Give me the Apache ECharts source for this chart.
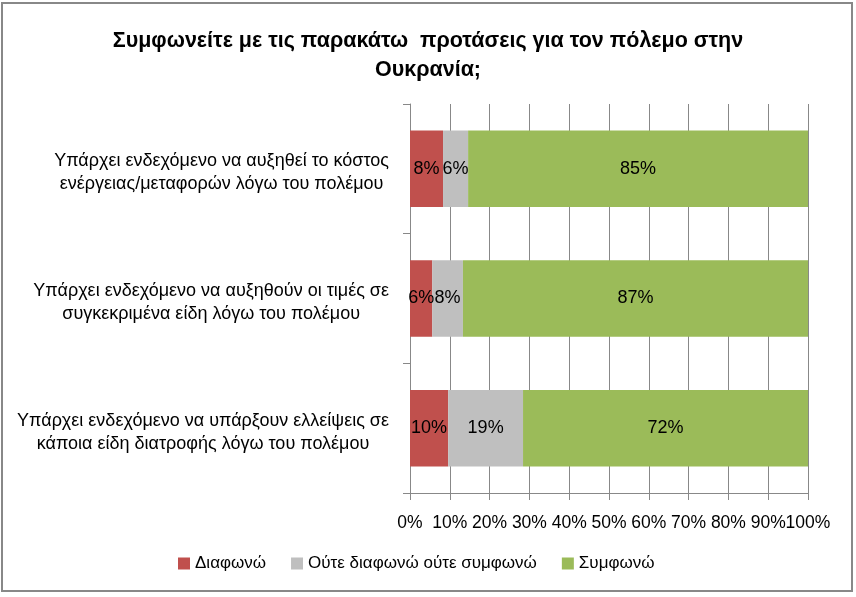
<!DOCTYPE html>
<html>
<head>
<meta charset="utf-8">
<script src="https://cdn.jsdelivr.net/npm/echarts@6/dist/echarts.min.js"></script>
<style>
  html, body { margin: 0; padding: 0; background: #fff; }
  #main { width: 856px; height: 597px; }
</style>
</head>
<body>
<div id="main"></div>
<script>
// κατηγορίες (από πάνω προς τα κάτω)
const categories = [
    'Υπάρχει ενδεχόμενο να αυξηθεί το κόστος\nενέργειας/μεταφορών λόγω του πολέμου',
    'Υπάρχει ενδεχόμενο να αυξηθούν οι τιμές σε\nσυγκεκριμένα είδη λόγω του πολέμου',
    'Υπάρχει ενδεχόμενο να υπάρξουν ελλείψεις σε\nκάποια είδη διατροφής λόγω του πολέμου'
];
const seriesNames = ['Διαφωνώ', 'Ούτε διαφωνώ ούτε συμφωνώ', 'Συμφωνώ'];
const disagree = [8.3, 5.6, 9.6];
const neutral = [6.3, 7.7, 18.8];
const agree = [85.4, 86.7, 71.6];
const xTicks = [0, 10, 20, 30, 40, 50, 60, 70, 80, 90, 100];

const colors = ['#C0504D', '#BFBFBF', '#9BBB59'];
const values = [disagree, neutral, agree];
const FONT = '"Liberation Sans", Arial, sans-serif';

function series() {
    const s = [];
    for (let i = 0; i < seriesNames.length; i++) {
        s.push({
            name: seriesNames[i],
            type: 'bar',
            stack: 'total',
            barWidth: '59%',
            data: values[i],
            itemStyle: { color: colors[i] },
            label: {
                show: true,
                position: 'inside',
                color: '#000',
                fontFamily: FONT,
                fontSize: 18,
                padding: [4, 0, 0, 0],
                formatter: (p) => Math.round(p.value) + '%'
            }
        });
    }
    return s;
}

const option = {
    animation: false,
    textStyle: { fontFamily: FONT },
    title: {
        text: 'Συμφωνείτε με τις παρακάτω  προτάσεις για τον πόλεμο στην\nΟυκρανία;',
        left: 'center',
        top: 22,
        textStyle: {
            fontFamily: FONT,
            fontWeight: 'bold',
            fontSize: 21.5,
            lineHeight: 29,
            color: '#000'
        }
    },
    legend: {
        left: 173,
        top: 550,
        itemWidth: 12,
        itemHeight: 12,
        itemGap: 25,
        icon: 'rect',
        textStyle: { fontFamily: FONT, fontSize: 17, color: '#000' },
        data: seriesNames
    },
    grid: {
        left: 410,
        right: 48,
        top: 104,
        bottom: 104
    },
    xAxis: {
        type: 'value',
        min: xTicks[0],
        max: xTicks[xTicks.length - 1],
        interval: 10,
        axisLine: { show: true, lineStyle: { color: '#888', width: 1 } },
        axisTick: { show: true, length: 7, lineStyle: { color: '#888' } },
        splitLine: { show: true, lineStyle: { color: '#888', width: 1 } },
        axisLabel: {
            color: '#000',
            fontFamily: FONT,
            fontSize: 17.5,
            margin: 21,
            formatter: (v) => v + '%'
        }
    },
    yAxis: {
        type: 'category',
        inverse: true,
        data: categories,
        axisLine: { show: true, lineStyle: { color: '#888', width: 1 } },
        axisTick: { show: true, length: 7, lineStyle: { color: '#888' } },
        axisLabel: {
            color: '#000',
            fontFamily: FONT,
            fontSize: 18,
            lineHeight: 23,
            margin: 21,
            padding: [8, 0, 0, 0],
            // γραμμές κεντραρισμένες μέσα στο μπλοκ
            formatter: (v) => v.split('\n').map((l) => '{c|' + l + '}').join('\n'),
            rich: {
                c: { align: 'center', fontFamily: FONT, fontSize: 18, lineHeight: 23, color: '#000' }
            }
        }
    },
    graphic: [{
        type: 'rect',
        shape: { x: 2, y: 3, width: 850, height: 588 },
        style: { fill: 'none', stroke: '#888', lineWidth: 2 },
        silent: true
    }],
    series: series()
};

const myChart = echarts.init(document.getElementById('main'));
option && myChart.setOption(option);
window.addEventListener('resize', () => {
    myChart.resize();
});
</script>
</body>
</html>
